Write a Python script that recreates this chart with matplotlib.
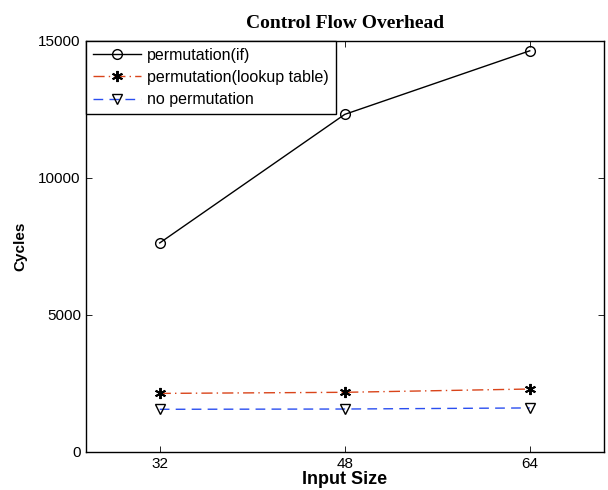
import matplotlib
matplotlib.use('Agg')
import matplotlib.pyplot as plt

# ── Data ──────────────────────────────────────────────────────────────────────
input_sizes = [32, 48, 64]
perm_if = [7620, 12310, 14630]
perm_lookup = [2130, 2170, 2290]
no_perm = [1550, 1560, 1600]
y_ticks = [0, 5000, 10000, 15000]

plt.rcParams['font.family'] = ['Liberation Sans', 'DejaVu Sans']

fig = plt.figure(figsize=(6.08, 4.9), dpi=100)
ax = fig.add_axes([0.141, 0.078, 0.852, 0.839])

ax.plot(input_sizes, perm_if, '-o', color='black', lw=1.0,
        ms=7, mfc='none', mec='black', mew=1.0, label='permutation(if)')
ax.plot(input_sizes, perm_lookup, '-.', marker=(6, 2, 0), color='#d9441a', lw=1.0,
        dashes=(8, 3, 1, 3),
        ms=8, mfc='black', mec='black', mew=1.4, label='permutation(lookup table)')
ax.plot(input_sizes, no_perm, '--v', color='#2a4ef0', lw=1.0, dashes=(7, 4.5),
        ms=7, mfc='none', mec='black', mew=1.0, label='no permutation')

ax.set_xlim(25.6, 70.4)
ax.set_ylim(0, 15000)
ax.set_xticks(input_sizes)
ax.set_yticks(y_ticks)
ax.tick_params(direction='in', top=True, right=True, labelsize=11, length=4, width=0.6)
for s in ax.spines.values():
    s.set_linewidth(1.0)

ax.set_title('Control Flow Overhead', fontfamily='Liberation Serif',
             fontweight='bold', fontsize=14, pad=9)
ax.set_xlabel('Input Size', fontweight='bold', fontsize=13, labelpad=0)
ax.set_ylabel('Cycles', fontweight='bold', fontsize=11, labelpad=8)

leg = ax.legend(loc='upper left', fontsize=11.5, fancybox=False, framealpha=1,
                edgecolor='black', borderaxespad=0, handlelength=3.0,
                handletextpad=0.4, borderpad=0.45, labelspacing=0.45)
leg.get_frame().set_linewidth(1.0)

fig.savefig('out.png', dpi=100)
